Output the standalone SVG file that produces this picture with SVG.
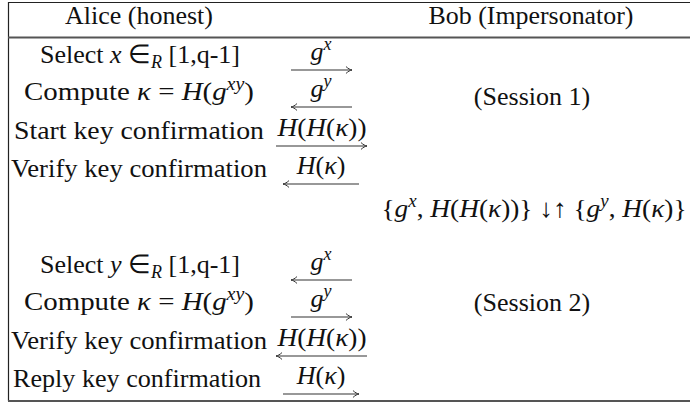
<svg xmlns="http://www.w3.org/2000/svg" width="690" height="403" viewBox="0 0 690 403">
<style>
  text { font-family: 'Liberation Serif', 'Times New Roman', serif; font-size: 26px; fill: #111; }
  .m { text-anchor: middle; }
  .i { font-style: italic; }
  .s { font-size: 18px; font-style: italic; }
  .rule { stroke: #222; stroke-width: 1.2; fill: none; }
  .rule2 { stroke: #555; stroke-width: 2; fill: none; }
  .arr { stroke: #333; stroke-width: 1.2; fill: none; marker-end: url(#ah); }
</style>
<defs>
  <marker id="ah" viewBox="0 0 10 10" markerUnits="userSpaceOnUse" markerWidth="9" markerHeight="9" refX="9.2" refY="5" orient="auto">
    <path d="M2.5,1.2 C5,3.4 7,4.6 9.2,5 C7,5.4 5,6.6 2.5,8.8" fill="none" stroke="#333" stroke-width="1.1"/>
  </marker>
</defs>

<g id="frame">
  <line class="rule" x1="8.5" y1="2.5" x2="690" y2="2.5"/>
  <line class="rule" x1="8.5" y1="2" x2="8.5" y2="401"/>
  <line class="rule2" x1="8" y1="37.5" x2="690" y2="37.5"/>
  <line class="rule2" x1="8" y1="401" x2="690" y2="401"/>
</g>

<g id="header">
  <text class="m" x="139" y="24">Alice (honest)</text>
  <text class="m" x="531" y="24" textLength="205" lengthAdjust="spacingAndGlyphs">Bob (Impersonator)</text>
</g>

<g id="session1-alice">
  <text class="m" x="140" y="63">Select <tspan class="i">x</tspan> ∈<tspan class="s" dy="5">R</tspan><tspan dy="-5"> [1,q-1]</tspan></text>
  <text class="m" x="139" y="100" textLength="230" lengthAdjust="spacingAndGlyphs">Compute <tspan class="i">κ</tspan> = <tspan class="i">H</tspan>(<tspan class="i">g</tspan><tspan class="s" dy="-10">xy</tspan><tspan dy="10">)</tspan></text>
  <text class="m" x="139" y="139" textLength="250" lengthAdjust="spacingAndGlyphs">Start key confirmation</text>
  <text class="m" x="139" y="177" textLength="256" lengthAdjust="spacingAndGlyphs">Verify key confirmation</text>
</g>

<g id="session1-bob">
  <text class="m" x="532" y="105">(Session 1)</text>
</g>

<g id="exchange">
  <text class="m" x="534" y="217" textLength="305" lengthAdjust="spacingAndGlyphs">{<tspan class="i">g</tspan><tspan class="s" dy="-10">x</tspan><tspan dy="10">, </tspan><tspan class="i">H</tspan>(<tspan class="i">H</tspan>(<tspan class="i">κ</tspan>))} ↓↑ {<tspan class="i">g</tspan><tspan class="s" dy="-10">y</tspan><tspan dy="10">, </tspan><tspan class="i">H</tspan>(<tspan class="i">κ</tspan>)}</text>
</g>

<g id="session2-alice">
  <text class="m" x="140" y="273">Select <tspan class="i">y</tspan> ∈<tspan class="s" dy="5">R</tspan><tspan dy="-5"> [1,q-1]</tspan></text>
  <text class="m" x="139" y="310" textLength="230" lengthAdjust="spacingAndGlyphs">Compute <tspan class="i">κ</tspan> = <tspan class="i">H</tspan>(<tspan class="i">g</tspan><tspan class="s" dy="-10">xy</tspan><tspan dy="10">)</tspan></text>
  <text class="m" x="139" y="349" textLength="256" lengthAdjust="spacingAndGlyphs">Verify key confirmation</text>
  <text class="m" x="137" y="387" textLength="248" lengthAdjust="spacingAndGlyphs">Reply key confirmation</text>
</g>

<g id="session2-bob">
  <text class="m" x="532" y="311">(Session 2)</text>
</g>

<g id="labels">
  <text class="m" x="321" y="60"><tspan class="i">g</tspan><tspan class="s" dy="-10">x</tspan></text>
  <text class="m" x="321" y="97"><tspan class="i">g</tspan><tspan class="s" dy="-10">y</tspan></text>
  <text class="m" x="322" y="136" textLength="89" lengthAdjust="spacingAndGlyphs"><tspan class="i">H</tspan>(<tspan class="i">H</tspan>(<tspan class="i">κ</tspan>))</text>
  <text class="m" x="321" y="174"><tspan class="i">H</tspan>(<tspan class="i">κ</tspan>)</text>
  <text class="m" x="321" y="270"><tspan class="i">g</tspan><tspan class="s" dy="-10">x</tspan></text>
  <text class="m" x="321" y="307"><tspan class="i">g</tspan><tspan class="s" dy="-10">y</tspan></text>
  <text class="m" x="322" y="346" textLength="89" lengthAdjust="spacingAndGlyphs"><tspan class="i">H</tspan>(<tspan class="i">H</tspan>(<tspan class="i">κ</tspan>))</text>
  <text class="m" x="321" y="384"><tspan class="i">H</tspan>(<tspan class="i">κ</tspan>)</text>
</g>

<g id="connectors">
  <line class="arr" x1="291" y1="70" x2="352" y2="70"/>
  <line class="arr" x1="352" y1="107" x2="291" y2="107"/>
  <line class="arr" x1="276" y1="146" x2="367" y2="146"/>
  <line class="arr" x1="359" y1="184" x2="283" y2="184"/>
  <line class="arr" x1="352" y1="280" x2="291" y2="280"/>
  <line class="arr" x1="291" y1="317" x2="352" y2="317"/>
  <line class="arr" x1="367" y1="356" x2="276" y2="356"/>
  <line class="arr" x1="283" y1="394" x2="359" y2="394"/>
</g>
</svg>
